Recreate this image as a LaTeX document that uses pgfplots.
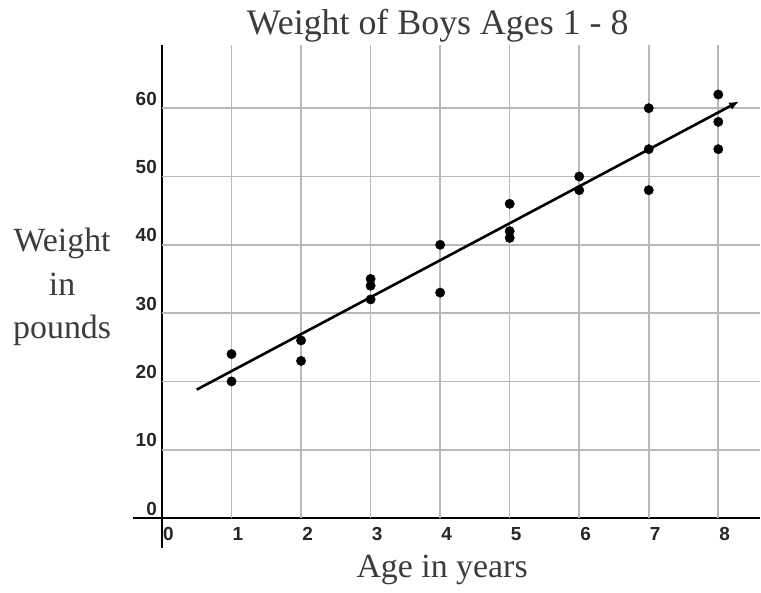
\documentclass[border=0pt]{standalone}
\usepackage{pgfplots}
\pgfplotsset{compat=1.18}
\usepackage{fontspec}
\setmainfont{Liberation Serif}
\newfontfamily\tickfont{Liberation Sans}
\usetikzlibrary{arrows.meta}
\definecolor{gridgray}{RGB}{185,185,185}
\definecolor{txtgray}{RGB}{60,60,60}
\begin{document}
\begin{tikzpicture}
\useasboundingbox (-133bp,-45bp) rectangle (628bp,548bp);
\begin{axis}[
  scale only axis,
  width=627bp, height=503bp,
  xmin=-0.417, xmax=8.6,
  ymin=-4.39, ymax=69.25,
  axis x line=center, axis y line=center,
  axis line style={-, black, line width=1.4bp},
  hide obscured x ticks=false, hide obscured y ticks=false,
  xtick={0,1,...,8}, ytick={0,10,...,60},
  major tick length=0pt,
  /pgf/number format/assume math mode=true,
  tick label style={font=\tickfont\bfseries\fontsize{19}{22}\selectfont, text=black!85, inner sep=0pt},
  xticklabel style={anchor=base west, yshift=-22bp, xshift=1bp},
  yticklabel style={anchor=base east, xshift=-5bp, yshift=3bp},
  every axis title shift=0pt,
  title={Weight of Boys Ages 1 - 8},
  title style={at={(0.486,1.02)}, anchor=base, font=\fontsize{36}{40}\selectfont, text=txtgray},
  xlabel={Age in years},
  xlabel style={at={(0.493,-0.0596)}, anchor=base, font=\fontsize{34}{38}\selectfont, text=txtgray},
  ylabel={Weight\\in\\pounds},
  ylabel style={at={(-0.113,0.519)}, anchor=center, align=center, font=\fontsize{34}{44}\selectfont, text=txtgray},
  clip=false,
]
\pgfplotsinvokeforeach{1,...,8}{\draw[gridgray, line width=1.6bp] (axis cs:#1,0) -- (axis cs:#1,69.25);}
\pgfplotsinvokeforeach{10,20,...,60}{\draw[gridgray, line width=1.6bp] (axis cs:0,#1) -- (axis cs:8.6,#1);}
\addplot[only marks, mark=*, mark size=4.7bp, black] coordinates {
  (1,24) (1,20)
  (2,26) (2,23)
  (3,35) (3,34) (3,32)
  (4,40) (4,33)
  (5,46) (5,42) (5,41)
  (6,50) (6,48)
  (7,60) (7,54) (7,48)
  (8,62) (8,58) (8,54)
};
\addplot[black, line width=2.6bp, -{Latex[length=10bp,width=8bp]}] coordinates {(0.5,18.8) (8.3,61)};
\end{axis}
\end{tikzpicture}
\end{document}
